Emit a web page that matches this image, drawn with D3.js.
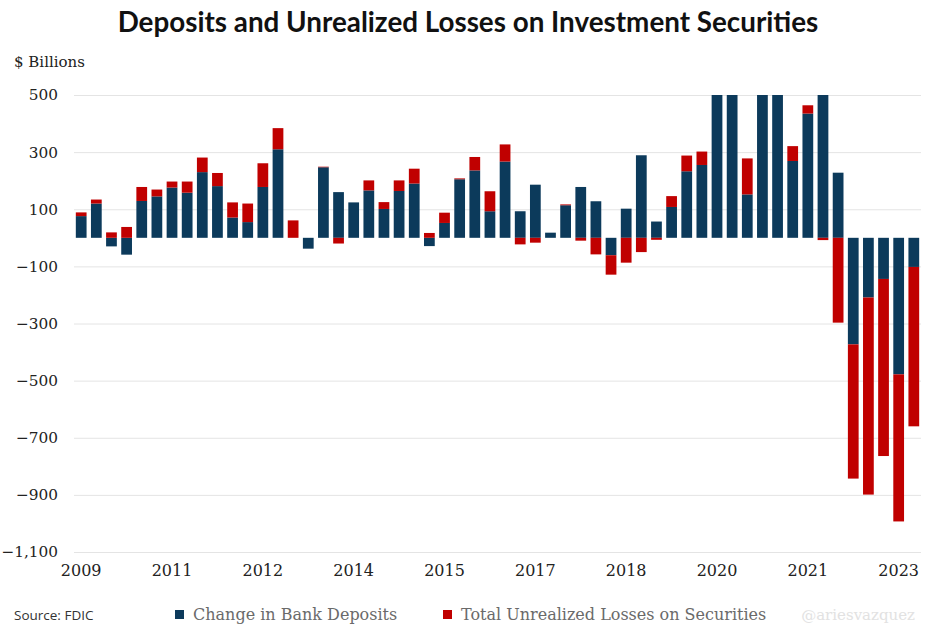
<!DOCTYPE html>
<html>
<head>
<meta charset="utf-8">
<script src="https://cdn.jsdelivr.net/npm/d3@7"></script>
<style>
  body { margin: 0; background: #fff; }
  svg { display: block; }
</style>
</head>
<body>
<svg id="chart" width="940" height="638"></svg>
<script>
// =============================
// Data (quarterly, $ billions)
// =============================

const quarters = [
    "2009Q4",
    "2010Q1", "2010Q2", "2010Q3", "2010Q4",
    "2011Q1", "2011Q2", "2011Q3", "2011Q4",
    "2012Q1", "2012Q2", "2012Q3", "2012Q4",
    "2013Q1", "2013Q2", "2013Q3", "2013Q4",
    "2014Q1", "2014Q2", "2014Q3", "2014Q4",
    "2015Q1", "2015Q2", "2015Q3", "2015Q4",
    "2016Q1", "2016Q2", "2016Q3", "2016Q4",
    "2017Q1", "2017Q2", "2017Q3", "2017Q4",
    "2018Q1", "2018Q2", "2018Q3", "2018Q4",
    "2019Q1", "2019Q2", "2019Q3", "2019Q4",
    "2020Q1", "2020Q2", "2020Q3", "2020Q4",
    "2021Q1", "2021Q2", "2021Q3", "2021Q4",
    "2022Q1", "2022Q2", "2022Q3", "2022Q4",
    "2023Q1", "2023Q2", "2023Q3"
];

const deposits = [
    76, 120, -30, -59, 129, 145, 176, 158, 230, 181, 71, 55, 178, 310,
    0, -38, 247, 160, 124, 166, 101, 164, 190, -29, 52, 205, 236, 93,
    267, 93, 186, 18, 114, 178, 128, -61, 102, 289, 57, 108, 233, 255,
    900, 1100, 152, 620, 700, 269, 435, 600, 228, -373, -209, -144, -478, -102
];

const losses = [
    13, 14, 19, 38, 49, 24, 21, 39, 51, 46, 53, 65, 83, 74,
    61, 0, 2, -20, 0, 35, 24, 37, 52, 17, 36, 3, 47, 70,
    60, -23, -17, 0, 3, -10, -58, -68, -87, -50, -7, 38, 55, 47,
    40, 30, 126, 20, 15, 52, 29, -8, -297, -470, -690, -620, -515, -558
];

// x tick labels: every 6th quarter
const tickIndex = [1, 7, 13, 19, 25, 31, 37, 43, 49, 55];
const tickLabels = ["2009", "2011", "2012", "2014", "2015", "2017", "2018", "2020", "2021", "2023"];

const yTicks = [500, 300, 100, -100, -300, -500, -700, -900, -1100];

const seriesNames = ["Change in Bank Deposits", "Total Unrealized Losses on Securities"];
const colors = ["#0c3a5b", "#c00000"];

// =============================
// Layout
// =============================

const svg = d3.select("#chart");
const plotLeft = 74, plotRight = 921, plotTop = 95, plotBottom = 552;
const serif = "'DejaVu Serif', serif";

const rows = quarters.map((q, i) => ({ q: q, deposits: deposits[i], losses: losses[i] }));

const x = d3.scaleBand()
    .domain(quarters)
    .range([plotLeft, plotRight])
    .paddingInner(0.29)
    .paddingOuter(0.12);

const y = d3.scaleLinear()
    .domain([-1100, 500])
    .range([plotBottom, plotTop]);

const stack = d3.stack()
    .keys(["deposits", "losses"])
    .offset(d3.stackOffsetDiverging);

const layers = stack(rows);

// Title
svg.append("text")
    .attr("x", 468)
    .attr("y", 32)
    .attr("text-anchor", "middle")
    .attr("font-family", "Lato, 'Open Sans', sans-serif")
    .attr("font-weight", 700)
    .attr("font-size", 27.8)
    .attr("fill", "#111")
    .text("Deposits and Unrealized Losses on Investment Securities");

svg.append("text")
    .attr("x", 14)
    .attr("y", 67)
    .attr("font-family", serif)
    .attr("font-size", 15)
    .attr("fill", "#222")
    .text("$ Billions");

// Grid + y axis
const yAxis = d3.axisLeft(y)
    .tickValues(yTicks)
    .tickSize(-(plotRight - plotLeft))
    .tickFormat(d3.format(","));

svg.append("g")
    .attr("transform", `translate(${plotLeft},0)`)
    .call(yAxis)
    .call(g => g.select(".domain").remove())
    .call(g => g.selectAll(".tick line").attr("stroke", "#e4e4e4").attr("stroke-width", 1))
    .call(g => g.selectAll(".tick text")
        .attr("x", -16)
        .attr("font-family", serif)
        .attr("font-size", 15.3)
        .attr("fill", "#222")
        .text(d => d3.format(",")(d).replace("-", "\u2013")));

// Bars (clipped at the top of the axis)
svg.append("clipPath")
    .attr("id", "plot-clip")
    .append("rect")
    .attr("x", plotLeft)
    .attr("y", plotTop)
    .attr("width", plotRight - plotLeft)
    .attr("height", plotBottom - plotTop);

svg.append("g")
    .attr("clip-path", "url(#plot-clip)")
    .selectAll("g")
    .data(layers)
    .join("g")
    .attr("fill", (d, i) => colors[i])
    .selectAll("rect")
    .data(d => d)
    .join("rect")
    .attr("x", d => x(d.data.q))
    .attr("width", x.bandwidth())
    .attr("y", d => y(Math.max(d[0], d[1])))
    .attr("height", d => Math.abs(y(d[0]) - y(d[1])));

// x labels
const xAxis = d3.axisBottom(x)
    .tickValues(tickIndex.map(i => quarters[i - 1]))
    .tickSize(0)
    .tickFormat((d, i) => tickLabels[i]);

svg.append("g")
    .attr("transform", `translate(0,${plotBottom + 10})`)
    .call(xAxis)
    .call(g => g.select(".domain").remove())
    .call(g => g.selectAll(".tick text")
        .attr("font-family", serif)
        .attr("font-size", 16)
        .attr("fill", "#222"));

// Footer
svg.append("text")
    .attr("x", 14)
    .attr("y", 620)
    .attr("font-family", "'Open Sans', sans-serif")
    .attr("font-size", 13.5)
    .attr("fill", "#333")
    .text("Source: FDIC");

const legendX = [175, 443];
const legend = svg.append("g")
    .selectAll("g")
    .data(seriesNames)
    .join("g")
    .attr("transform", (d, i) => `translate(${legendX[i]},0)`);

legend.append("rect")
    .attr("y", 610)
    .attr("width", 9)
    .attr("height", 9)
    .attr("fill", (d, i) => colors[i]);

legend.append("text")
    .attr("x", 18)
    .attr("y", 620)
    .attr("font-family", serif)
    .attr("font-size", 16)
    .attr("fill", "#6a6a6a")
    .text(d => d);

svg.append("text")
    .attr("x", 915)
    .attr("y", 620)
    .attr("text-anchor", "end")
    .attr("font-family", serif)
    .attr("font-size", 15)
    .attr("fill", "#e2e2e2")
    .text("@ariesvazquez");
</script>
</body>
</html>
